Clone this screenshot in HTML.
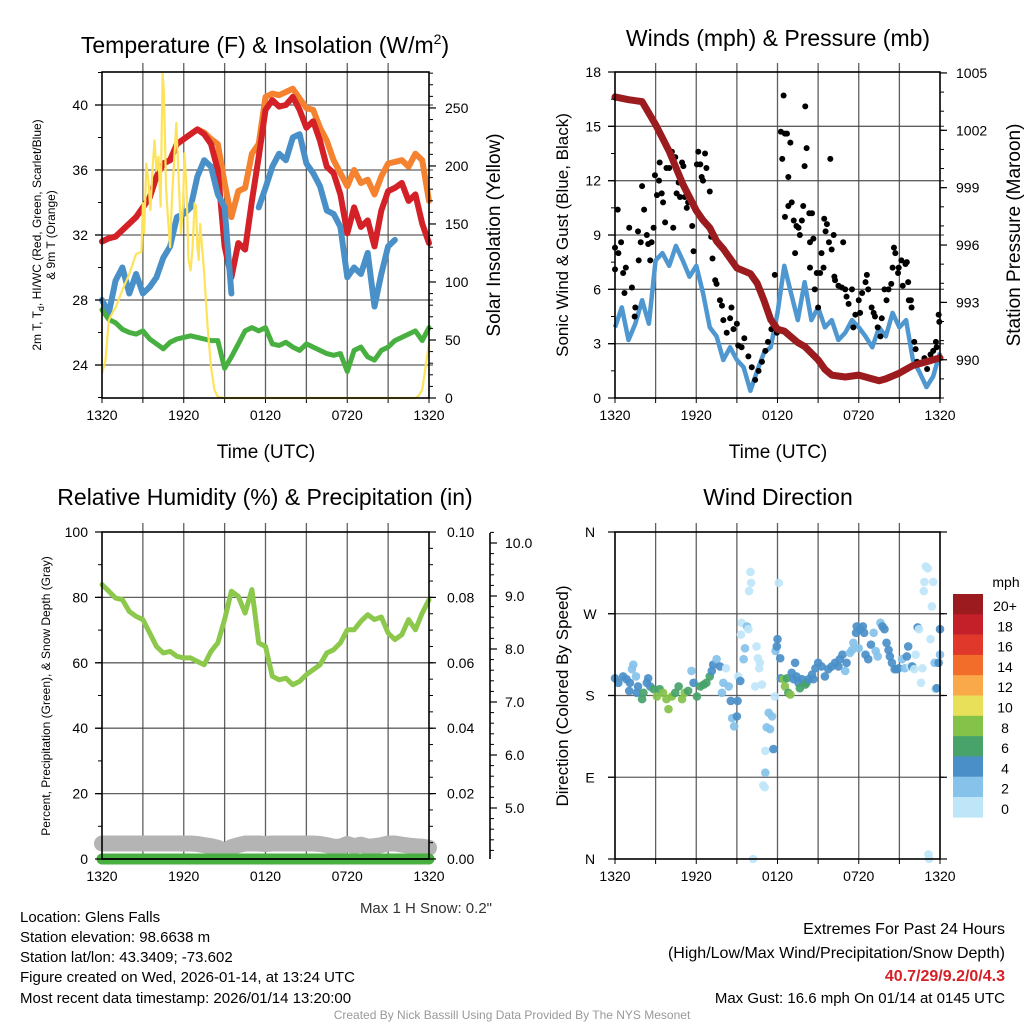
<!DOCTYPE html>
<html><head><meta charset="utf-8">
<style>
html,body{margin:0;padding:0;background:#fff;}
svg{display:block;font-family:"Liberation Sans",Arial,sans-serif;}
</style></head>
<body>
<svg id="fig" width="1024" height="1024" viewBox="0 0 1024 1024" xmlns="http://www.w3.org/2000/svg">
<rect x="0" y="0" width="1024" height="1024" fill="#fff"/>
<g id="layer"></g>
<!-- titles -->
<text x="265" y="53" font-size="23" text-anchor="middle">Temperature (F) &amp; Insolation (W/m<tspan dy="-9" font-size="14">2</tspan><tspan dy="9">)</tspan></text>
<text x="778" y="46" font-size="23" text-anchor="middle">Winds (mph) &amp; Pressure (mb)</text>
<text x="265" y="505" font-size="23" text-anchor="middle">Relative Humidity (%) &amp; Precipitation (in)</text>
<text x="778" y="505" font-size="23" text-anchor="middle">Wind Direction</text>
<!-- axis titles -->
<text x="266" y="458" font-size="19" text-anchor="middle">Time (UTC)</text>
<text x="778" y="458" font-size="19" text-anchor="middle">Time (UTC)</text>
<text transform="translate(41,235) rotate(-90)" font-size="12" text-anchor="middle">2m T, T<tspan dy="3" font-size="9">d</tspan><tspan dy="-3">, HI/WC (Red, Green, Scarlet/Blue)</tspan></text>
<text transform="translate(55,235) rotate(-90)" font-size="12" text-anchor="middle">&amp; 9m T (Orange)</text>
<text transform="translate(500,235) rotate(-90)" font-size="19" text-anchor="middle">Solar Insolation (Yellow)</text>
<text transform="translate(568,235) rotate(-90)" font-size="17" text-anchor="middle">Sonic Wind &amp; Gust (Blue, Black)</text>
<text transform="translate(1020,235) rotate(-90)" font-size="19" text-anchor="middle">Station Pressure (Maroon)</text>
<text transform="translate(50,696) rotate(-90)" font-size="12" text-anchor="middle">Percent, Precipitation (Green), &amp; Snow Depth (Gray)</text>
<text transform="translate(568,696) rotate(-90)" font-size="17" text-anchor="middle">Direction (Colored By Speed)</text>
<!-- footer -->
<text x="492" y="913" font-size="15" fill="#333" text-anchor="end">Max 1 H Snow: 0.2"</text>
<g font-size="15">
<text x="20" y="922">Location: Glens Falls</text>
<text x="20" y="942">Station elevation: 98.6638 m</text>
<text x="20" y="962">Station lat/lon: 43.3409; -73.602</text>
<text x="20" y="982">Figure created on Wed, 2026-01-14, at 13:24 UTC</text>
<text x="20" y="1003">Most recent data timestamp: 2026/01/14 13:20:00</text>
</g>
<g font-size="16" text-anchor="end">
<text x="1005" y="934">Extremes For Past 24 Hours</text>
<text x="1005" y="958">(High/Low/Max Wind/Precipitation/Snow Depth)</text>
<text x="1005" y="981" fill="#d42027" font-weight="bold">40.7/29/9.2/0/4.3</text>
<text x="1005" y="1003" font-size="15">Max Gust: 16.6 mph On 01/14 at 0145 UTC</text>
</g>
<text x="512" y="1019" font-size="12" fill="#999" text-anchor="middle">Created By Nick Bassill Using Data Provided By The NYS Mesonet</text>
</svg>
<script>
// ---------- data ----------
const tickHours = [0, 6, 12, 18, 24];
const tickLabels = ["1320", "1920", "0120", "0720", "1320"];
const temp2m = [31.6,31.8,31.9,32.3,32.7,33.1,33.7,34.3,35.6,36.4,36.6,37.6,37.9,38.2,38.5,38.2,37.6,36.0,31.3,29.4,31.5,31.1,34.1,36.8,39.7,40.3,39.9,40.0,40.5,39.7,38.6,39.0,37.8,36.2,35.8,34.5,32.1,33.7,32.5,32.9,31.3,33.5,34.7,34.9,35.2,34.1,34.5,32.7,31.5];
const temp9m = [31.6,31.8,31.9,32.3,32.7,33.1,33.7,34.3,35.6,36.4,36.6,37.6,37.9,38.2,38.5,38.3,37.9,37.6,35.2,33.1,34.7,34.9,37.0,37.6,40.5,40.7,40.6,40.8,41.0,40.4,39.8,39.7,38.6,37.8,36.6,35.8,35.0,36.0,35.2,35.4,34.5,35.6,36.4,36.5,36.6,36.2,37.0,36.6,34.1];
const windChill = [28.0,27.2,29.2,30.0,28.4,29.6,28.4,28.8,29.4,30.6,31.3,33.1,33.3,33.7,35.6,36.6,36.2,34.5,33.7,28.4,null,null,null,33.7,34.9,36.2,37.0,36.6,38.0,38.2,36.4,35.8,35.0,33.5,33.3,32.5,29.4,30.0,29.6,30.9,27.6,29.6,31.3,31.7,null,null,null,null,null];
const dewpoint = [27.4,26.8,26.6,26.2,26.0,25.9,26.1,25.6,25.3,25.0,25.4,25.6,25.7,25.8,25.7,25.6,25.5,25.5,23.8,24.5,25.3,26.1,26.3,26.1,26.3,25.3,25.2,25.4,25.1,24.9,25.3,25.1,24.9,24.7,24.6,24.7,23.6,24.9,25.1,24.5,24.3,24.9,25.1,25.5,25.7,25.9,26.1,25.5,26.3];
const solarHours = [0,0.25,0.5,0.75,1,1.5,2,2.5,2.9,3.0,3.1,3.25,3.4,3.55,3.7,3.85,4.0,4.15,4.3,4.45,4.55,4.7,4.85,5.0,5.15,5.3,5.45,5.6,5.8,5.95,6.05,6.2,6.35,6.5,6.65,6.8,6.9,7.0,7.1,7.2,7.3,7.5,7.75,8.0,8.25,8.5,9,12,18,23,23.25,23.5,23.75,24];
const solarVals  = [21,32,67,73,78,93,107,124,126,168,142,202,188,162,196,222,196,208,165,280,262,182,153,130,176,205,237,196,142,168,211,182,119,110,130,168,165,130,119,150,136,107,61,27,7,1,0,0,0,0,2,7,27,47];
const sonicWind = [3.9,5.0,3.2,4.1,5.4,4.1,7.6,8.0,7.3,8.4,7.6,6.7,7.3,5.8,3.9,3.4,2.1,2.8,2.1,1.7,0.4,1.5,2.5,2.8,4.7,7.3,5.8,4.3,6.4,4.3,5.0,3.9,4.3,3.2,3.6,4.3,3.9,3.4,2.8,3.9,3.4,4.7,3.9,4.3,2.1,1.4,0.6,1.2,2.5];
const pressHours = [0,1,2,3,4,5,6,6.5,7,7.5,8,9,10,10.5,11,11.5,12,12.5,13,13.5,14,15,15.5,16,17,18,19,19.5,20,21,22,23,24];
const pressVals  = [1003.75,1003.6,1003.5,1002.3,1000.9,999.2,997.8,997.3,996.9,996.2,995.8,994.8,994.5,994.0,993.1,992.1,991.6,991.5,991.2,990.9,990.7,990.0,989.5,989.2,989.1,989.2,989.0,988.9,989.0,989.3,989.7,989.9,990.1];
const gustHours = [0,0,0.25,0.2,0.45,0.6,0.8,1.05,0.7,1.25,1.5,1.45,1.7,1.75,1.9,2.0,2.15,2.35,2.45,2.6,2.7,2.85,2.95,3.1,3.25,3.3,3.45,3.55,3.7,3.8,4.0,4.2,4.3,4.45,4.55,4.7,4.8,4.95,5.05,5.15,5.3,5.4,5.7,5.8,6.05,6.15,6.3,6.4,6.5,6.65,6.75,7.0,7.1,7.2,7.4,7.5,7.75,7.9,8.0,8.25,8.5,8.6,8.75,9.0,9.1,9.35,9.55,9.85,10.1,10.35,10.6,10.85,11.1,11.3,11.55,11.8,11.95,12.25,12.45,12.55,12.35,12.7,12.8,12.95,12.8,12.55,13.05,13.2,13.3,13.4,13.55,13.65,13.8,13.9,14.05,14.0,14.15,14.35,14.4,14.55,14.65,14.4,14.75,14.9,15.0,15.15,15.25,15.4,15.45,15.55,15.65,15.8,15.9,16.0,16.15,16.2,16.25,16.5,16.75,16.85,17.0,17.1,17.25,17.5,17.6,17.75,18.0,18.1,18.25,18.5,18.6,18.7,18.95,19.1,19.2,19.4,19.6,19.7,19.9,20.05,20.2,20.4,20.5,20.6,20.7,20.9,20.95,21.15,21.25,21.45,21.55,21.65,21.7,21.85,21.9,22.1,22.2,22.3,22.55,22.85,23.05,23.3,23.5,23.7,23.75,23.9,23.95];
const gustVals  = [8.3,7.1,8.0,10.4,8.6,6.9,7.2,9.4,5.8,6.1,5.0,4.5,9.2,7.6,8.6,11.7,10.4,9.0,8.5,7.6,8.6,9.4,12.3,11.2,12.0,13.0,11.3,10.8,9.7,12.7,12.7,13.6,9.4,13.3,11.3,11.9,11.1,13.0,12.8,11.1,10.5,10.8,9.5,8.1,12.9,13.6,12.9,12.2,12.0,13.5,12.7,11.4,8.9,7.7,6.5,6.3,5.4,5.1,4.3,3.6,4.4,5.0,3.8,4.1,2.9,2.8,3.3,2.3,1.7,1.0,1.5,2.0,2.6,3.1,3.8,6.8,3.6,14.7,16.7,14.6,13.2,14.6,12.2,14.1,10.6,10.0,10.8,9.8,8.0,9.5,9.4,9.0,9.8,10.6,16.1,12.8,13.8,10.2,8.6,10.2,8.8,7.2,6.0,6.9,5.0,6.9,8.0,7.2,9.9,9.2,9.6,8.6,13.2,8.2,9.0,6.7,6.5,6.2,6.1,8.6,6.0,5.6,5.2,6.0,3.9,4.6,5.4,4.7,5.8,6.4,6.8,6.0,5.0,4.7,4.5,3.9,3.4,4.4,6.0,5.4,6.0,6.3,7.2,8.3,8.0,6.9,7.2,7.6,6.2,7.4,7.5,6.4,5.4,5.4,5.0,3.1,2.7,2.0,1.9,2.2,1.6,2.4,2.6,3.1,2.8,4.6,4.2];
const relHum = [83.9,81.9,79.8,79.3,75.7,74.2,73.2,69.1,65.0,63.0,63.5,62.0,61.5,61.5,60.4,59.4,63.5,66.1,73.2,81.9,80.3,75.2,82.4,66.1,65.0,55.9,54.8,55.3,53.3,54.3,56.4,57.9,59.4,63.0,64.0,66.1,70.1,70.1,72.7,74.7,73.2,74.0,69.1,67.1,68.6,73.2,70.1,75.2,79.3];
const snowDepth = [4.33,4.33,4.33,4.33,4.33,4.33,4.33,4.33,4.33,4.33,4.33,4.33,4.33,4.33,4.32,4.30,4.28,4.25,4.19,4.26,4.30,4.33,4.33,4.33,4.32,4.33,4.33,4.33,4.33,4.33,4.33,4.33,4.32,4.30,4.27,4.27,4.32,4.28,4.31,4.27,4.28,4.30,4.33,4.33,4.31,4.29,4.28,4.27,4.25];
const precipHours = [0, 24];
const precipVals = [0, 0];
const dirHours = [0,0.25,0.6,0.85,1.1,1.35,1.25,1.55,1.7,1.05,1.6,2.0,2.1,2.35,2.45,2.6,2.85,3.1,3.3,3.55,3.8,3.95,4.2,4.45,4.7,4.95,5.15,5.4,5.65,5.8,6.05,6.3,6.55,6.75,7.0,7.15,7.25,7.5,7.75,7.9,8.0,8.2,8.4,8.55,8.65,8.8,9.0,9.05,9.1,9.25,9.3,9.35,9.5,9.6,9.75,9.85,10.0,10.05,9.9,10.2,10.35,10.45,10.55,10.65,10.7,10.85,11.1,11.2,11.35,11.45,11.6,11.7,11.1,10.95,11.05,11.8,11.85,11.95,12.0,12.1,12.2,12.25,12.45,12.55,12.7,12.8,12.95,13.05,13.2,13.3,13.4,13.55,13.65,13.8,14.05,14.15,14.3,14.55,14.65,14.8,15.0,15.25,15.5,15.75,16.0,16.25,16.5,16.6,16.8,17.0,17.1,17.35,17.5,17.6,17.8,17.85,18.0,18.1,18.3,18.4,18.5,18.7,18.9,19.1,19.25,19.4,19.6,19.75,19.9,20.05,20.2,20.3,20.45,20.65,20.8,20.95,21.2,21.4,21.55,21.65,21.8,21.95,22.1,22.2,22.35,22.45,22.6,22.7,22.8,22.85,22.95,23.1,23.3,23.4,23.5,23.6,23.65,23.75,23.9,24.0,24.0,23.15,23.2];
const dirDeg = [199,194,201,198,194,214,209,201,190,185,183,176,183,194,199,190,187,179,187,183,176,165,179,183,190,176,183,185,207,194,179,190,192,194,201,207,214,220,212,183,194,210,190,174,155,146,157,174,201,196,247,260,220,232,256,253,316,304,295,0,190,234,221,210,216,192,119,145,161,143,157,121,95,81,79,179,229,234,242,304,221,199,198,190,199,183,181,205,198,216,201,194,188,198,192,194,198,203,198,210,216,212,201,209,212,216,212,220,225,207,216,227,230,238,249,256,232,253,256,249,225,220,236,249,229,223,260,256,253,238,230,223,216,209,209,210,220,210,223,234,212,212,209,225,255,253,194,210,295,305,322,320,242,278,305,216,187,188,216,253,225,5,0];
const dirSpeed = [5,5,5,5,5,3,3,3,5,5,5,7,7,5,5,5,7,9,7,9,9,9,9,7,7,9,9,7,3,5,7,7,7,7,7,5,5,3,5,3,3,1,3,5,3,3,5,5,1,5,1,1,3,3,3,1,1,1,1,1,1,1,1,1,1,1,1,3,3,3,3,5,3,1,1,1,3,5,5,1,5,5,9,9,7,7,9,5,5,5,5,5,7,5,7,7,5,5,5,5,5,5,5,5,5,5,5,5,5,3,5,3,3,3,5,5,3,5,5,5,5,5,5,3,3,3,3,5,5,5,5,5,5,5,5,5,3,3,5,5,1,5,1,1,5,1,1,1,1,1,1,1,1,1,1,3,1,5,5,5,3,1,1];
const speedBins = [0, 2, 4, 6, 8, 10, 12, 14, 16, 18, 20];
const speedLabels = ["0", "2", "4", "6", "8", "10", "12", "14", "16", "18", "20+"];
const speedColors = ["#bfe6f8","#86c2ea","#4a8fc8","#47a36a","#84c24a","#e9e05a","#f9a94a","#f26c2a","#e0392b","#c4202a","#9b1b1e"];

// ---------- helpers ----------
const NS = "http://www.w3.org/2000/svg";
const layer = document.getElementById('layer');
function mk(tag, attrs, parent) {
  const e = document.createElementNS(NS, tag);
  for (const k in attrs) e.setAttribute(k, attrs[k]);
  (parent || layer).appendChild(e);
  return e;
}
const P1 = {x0:102, x1:429, y0:72, y1:398};
const P2 = {x0:615, x1:940, y0:72, y1:398};
const P3 = {x0:102, x1:429, y0:532, y1:859};
const P4 = {x0:615, x1:940, y0:532, y1:859};
function xS(P, h) { return P.x0 + (P.x1 - P.x0) * h / 24; }
function yS(P, v, lo, hi) { return P.y1 - (P.y1 - P.y0) * (v - lo) / (hi - lo); }
function linePath(P, hours, vals, lo, hi) {
  let d = "", pen = false;
  for (let i = 0; i < vals.length; i++) {
    if (vals[i] === null) { pen = false; continue; }
    d += (pen ? "L" : "M") + xS(P, hours[i]).toFixed(1) + "," + yS(P, vals[i], lo, hi).toFixed(1);
    pen = true;
  }
  return d;
}
const halfHours = [];
for (let i = 0; i <= 48; i++) halfHours.push(i / 2);

// ---------- frames, grids, ticks ----------
function frame(P, name, hGrid, lo, hi) {
  for (let h = 3; h < 24; h += 3) {
    const g = mk('line', {x1:xS(P,h), x2:xS(P,h), y1:P.y0-9, y2:P.y1, stroke:'#444', 'stroke-width':1.3, 'stroke-opacity':0.85});
    
    
  }
  for (let h = 0; h <= 24; h += 3) {
    const t = mk('line', {x1:xS(P,h), x2:xS(P,h), y1:P.y1, y2:P.y1+5, stroke:'#000', 'stroke-width':1});
    
    
  }
  hGrid.forEach(v => {
    const g = mk('line', {x1:P.x0-7, x2:P.x1+4, y1:yS(P,v,lo,hi), y2:yS(P,v,lo,hi), stroke:'#444', 'stroke-width':1.3, 'stroke-opacity':0.85});
    
    
  });
  tickHours.forEach((h, i) => {
    const t = mk('text', {x:xS(P,h), y:P.y1+22, 'font-size':14, 'text-anchor':'middle'});
    t.textContent = tickLabels[i];
    
    
  });
}
function frameBox(P, name) {
  const r = mk('rect', {x:P.x0, y:P.y0, width:P.x1-P.x0, height:P.y1-P.y0, fill:'none', stroke:'#000', 'stroke-width':1.6});
  
  
}
function yAxis(P, name, side, lo, hi, majors, minorStep, labelFn, xOff, anchor) {
  const xe = side === 'left' ? P.x0 : P.x1;
  const dir = side === 'left' ? -1 : 1;
  for (let v = Math.ceil(lo / minorStep) * minorStep; v <= hi + 1e-9; v += minorStep) {
    const y = yS(P, v, lo, hi);
    const t = mk('line', {x1:xe, x2:xe + dir*4, y1:y, y2:y, stroke:'#000', 'stroke-width':1});
    
    
  }
  majors.forEach(v => {
    const y = yS(P, v, lo, hi);
    const t = mk('line', {x1:xe, x2:xe + dir*7, y1:y, y2:y, stroke:'#000', 'stroke-width':1.2});
    
    
    const l = mk('text', {x:xe + xOff, y:y+5, 'font-size':14, 'text-anchor':anchor});
    l.textContent = labelFn(v);
    
    
  });
}

// ===== Panel 1: temperature =====
const T_LO = 21.97, T_HI = 42.03, S_LO = 0, S_HI = 281;
frame(P1, 'temp', [24,28,32,36,40], T_LO, T_HI);
const s1 = [
  ['temp-9m-line', temp9m, '#f5822f', 6],
  ['temp-2m-line', temp2m, '#d42027', 6],
  ['wind-chill-line', windChill, '#4a90c8', 6],
  ['dewpoint-line', dewpoint, '#48b040', 5]
];
s1.forEach(s => {
  const p = mk('path', {d:linePath(P1, halfHours, s[1], T_LO, T_HI), fill:'none', stroke:s[2], 'stroke-width':s[3], 'stroke-linejoin':'round', 'stroke-linecap':'round'});
  
  
});
const solar = mk('path', {d:linePath(P1, solarHours, solarVals, S_LO, S_HI), fill:'none', stroke:'#fde35a', 'stroke-width':2.2, 'stroke-linejoin':'round'});


frameBox(P1, 'temp');
yAxis(P1, 'temp-left', 'left', T_LO, T_HI, [24,28,32,36,40], 2, v => String(v), -14, 'end');
yAxis(P1, 'solar-right', 'right', S_LO, S_HI, [0,50,100,150,200,250], 10, v => String(v), 16, 'start');

// ===== Panel 2: winds & pressure =====
const W_LO = 0, W_HI = 18, PR_LO = 988.0, PR_HI = 1005.05;
frame(P2, 'wind', [3,6,9,12,15], W_LO, W_HI);
const wl = mk('path', {d:linePath(P2, halfHours, sonicWind, W_LO, W_HI), fill:'none', stroke:'#4f97d0', 'stroke-width':4.5, 'stroke-linejoin':'round'});


gustHours.forEach((h, i) => {
  const c = mk('circle', {cx:xS(P2,h), cy:yS(P2,gustVals[i],W_LO,W_HI), r:3, fill:'#000'});
  
  
});
const pl = mk('path', {d:linePath(P2, pressHours, pressVals, PR_LO, PR_HI), fill:'none', stroke:'#9b1b1e', 'stroke-width':7, 'stroke-linejoin':'round', 'stroke-linecap':'round'});


frameBox(P2, 'wind');
yAxis(P2, 'wind-left', 'left', W_LO, W_HI, [0,3,6,9,12,15,18], 1.5, v => String(v), -14, 'end');
yAxis(P2, 'pressure-right', 'right', PR_LO, PR_HI, [990,993,996,999,1002,1005], 1, v => String(v), 16, 'start');

// ===== Panel 3: RH & precip =====
const RH_LO = 0, RH_HI = 100, PC_LO = 0, PC_HI = 0.1, SN_LO = 5 - 51/53, SN_HI = 5 + 276/53;
frame(P3, 'rh', [20,40,60,80], RH_LO, RH_HI);
const sn = mk('path', {d:linePath(P3, halfHours, snowDepth, SN_LO, SN_HI), fill:'none', stroke:'#b4b4b4', 'stroke-width':16, 'stroke-linejoin':'round', 'stroke-linecap':'round'});


const pc = mk('path', {d:linePath(P3, precipHours, precipVals, PC_LO, PC_HI), fill:'none', stroke:'#48b040', 'stroke-width':11, 'stroke-linecap':'round'});


const rh = mk('path', {d:linePath(P3, halfHours, relHum, RH_LO, RH_HI), fill:'none', stroke:'#8cc84b', 'stroke-width':5, 'stroke-linejoin':'round', 'stroke-linecap':'round'});


frameBox(P3, 'rh');
const zl = mk('line', {x1:P3.x0, x2:P3.x1, y1:P3.y1, y2:P3.y1, stroke:'#000', 'stroke-width':1.6});


yAxis(P3, 'rh-left', 'left', RH_LO, RH_HI, [0,20,40,60,80,100], 10, v => String(v), -14, 'end');
yAxis(P3, 'precip-right', 'right', PC_LO, PC_HI, [0,0.02,0.04,0.06,0.08,0.1], 0.005, v => v.toFixed(2), 18, 'start');
const PS = {x0:490, x1:490, y0:P3.y0, y1:P3.y1};
const sax = mk('line', {x1:490, x2:490, y1:533, y2:859, stroke:'#000', 'stroke-width':1.6});


yAxis(PS, 'snow-right', 'right', SN_LO, SN_HI, [5,6,7,8,9,10], 0.2, v => v.toFixed(1), 15, 'start');

// ===== Panel 4: wind direction =====
frame(P4, 'dir', [90,180,270], 0, 360);
function colorFor(s) {
  let k = 0;
  for (let i = 0; i < speedBins.length; i++) if (s >= speedBins[i]) k = i;
  return speedColors[k];
}
dirHours.forEach((h, i) => {
  const c = mk('circle', {cx:xS(P4, Math.min(h,24)), cy:yS(P4, dirDeg[i], 0, 360), r:4.3, fill:colorFor(dirSpeed[i]), 'fill-opacity':0.92});
  
  
});
frameBox(P4, 'dir');
const dirLabels = ["N","E","S","W","N"];
[0,90,180,270,360].forEach((v, i) => {
  const y = yS(P4, v, 0, 360);
  const t = mk('line', {x1:P4.x0, x2:P4.x0-7, y1:y, y2:y, stroke:'#000', 'stroke-width':1.2});
  
  
  const t2 = mk('line', {x1:P4.x1, x2:P4.x1+7, y1:y, y2:y, stroke:'#000', 'stroke-width':1.2});
  
  
  const l = mk('text', {x:590, y:y+5, 'font-size':14, 'text-anchor':'middle'});
  l.textContent = dirLabels[i];
  
  
});
const cbTitle = mk('text', {x:1006, y:587, 'font-size':14, 'text-anchor':'middle'});
cbTitle.textContent = 'mph';


for (let i = 0; i < speedColors.length; i++) {
  const k = speedColors.length - 1 - i;
  const y = 594 + i * 20.3;
  const r = mk('rect', {x:953, y:y, width:30, height:20.6, fill:speedColors[k]});
  
  
  const l = mk('text', {x:1005, y:y+17, 'font-size':14, 'text-anchor':'middle'});
  l.textContent = speedLabels[k];
  
  
}
</script>
</body></html>
